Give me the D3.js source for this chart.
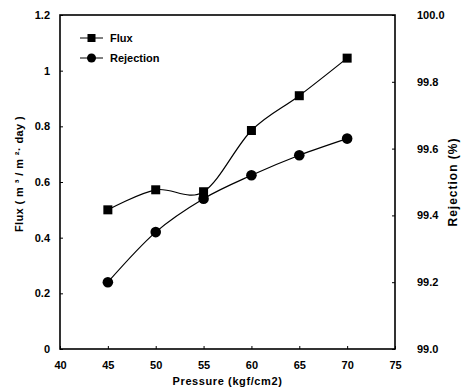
<!DOCTYPE html>
<html>
<head>
<meta charset="utf-8">
<script src="https://cdn.jsdelivr.net/npm/d3@7"></script>
<style>
  body { margin: 0; background: #fff; }
  text { font-family: "Liberation Sans", Arial, sans-serif; font-weight: bold; fill: #000; }
</style>
</head>
<body>
<div class="chart"></div>
<script>
// data
let pressure = [45, 50, 55, 60, 65, 70];
let flux = [0.50, 0.572, 0.565, 0.785, 0.91, 1.045];
let rejection = [99.20, 99.35, 99.45, 99.52, 99.58, 99.63];
let xTicks = [40, 45, 50, 55, 60, 65, 70, 75];
let fluxTicks = [0, 0.2, 0.4, 0.6, 0.8, 1, 1.2];
let rejTicks = [99.0, 99.2, 99.4, 99.6, 99.8, 100.0];

let margin = { top: 15, right: 66, bottom: 40, left: 60 };
let width = 461 - margin.left - margin.right;
let height = 389 - margin.top - margin.bottom;

let svg = d3.select('.chart')
  .append('svg')
    .attr('width', 461)
    .attr('height', 389);
let g = svg.append('g')
    .attr('transform', 'translate(' + margin.left + ', ' + margin.top + ')');

let xScale = d3.scaleLinear().domain([40, 75]).range([0, width]);
let yLeft = d3.scaleLinear().domain([0, 1.2]).range([height, 0]);
let yRight = d3.scaleLinear().domain([99, 100]).range([height, 0]);

let xAxis = d3.axisBottom(xScale).tickValues(xTicks).tickSize(-3).tickPadding(12)
  .tickFormat(d3.format('d'));
let leftAxis = d3.axisLeft(yLeft).tickValues(fluxTicks).tickSize(-3).tickPadding(10)
  .tickFormat(d => d === 0 || d === 1 ? String(d) : d3.format('.1f')(d));
let rightAxis = d3.axisRight(yRight).tickValues(rejTicks).tickSize(-3).tickPadding(22)
  .tickFormat(d3.format('.1f'));

function styleAxis(sel) {
  sel.select('.domain').remove();
  sel.selectAll('line').attr('stroke', '#000').attr('stroke-width', 1);
  sel.selectAll('text').style('font-size', '11px');
}

g.append('g').attr('transform', `translate(0, ${height})`).call(xAxis).call(styleAxis);
g.append('g').call(leftAxis).call(styleAxis);
g.append('g').attr('transform', `translate(${width}, 0)`).call(rightAxis).call(styleAxis);

// frame
g.append('rect')
  .attr('width', width).attr('height', height)
  .attr('fill', 'none').attr('stroke', '#000').attr('stroke-width', 1.6);

let curve = d3.curveCardinal.tension(0);

let fluxLine = d3.line().curve(curve)
  .x((d, i) => xScale(pressure[i])).y(d => yLeft(d));
let rejLine = d3.line().curve(curve)
  .x((d, i) => xScale(pressure[i])).y(d => yRight(d));

g.append('path').datum(flux).attr('d', fluxLine)
  .attr('fill', 'none').attr('stroke', '#000').attr('stroke-width', 1.2);
g.append('path').datum(rejection).attr('d', rejLine)
  .attr('fill', 'none').attr('stroke', '#000').attr('stroke-width', 1.2);

g.selectAll('.sq').data(flux).enter().append('rect')
  .attr('x', (d, i) => xScale(pressure[i]) - 4.5)
  .attr('y', d => yLeft(d) - 4.5)
  .attr('width', 9).attr('height', 9).attr('fill', '#000');

g.selectAll('.dot').data(rejection).enter().append('circle')
  .attr('cx', (d, i) => xScale(pressure[i]))
  .attr('cy', d => yRight(d))
  .attr('r', 5.3).attr('fill', '#000');

// legend
let legend = svg.append('g').attr('transform', 'translate(80, 38)');
legend.append('line').attr('x1', 0).attr('x2', 23).attr('stroke', '#000');
legend.append('rect').attr('x', 7.5).attr('y', -4).attr('width', 8).attr('height', 8).attr('fill', '#000');
legend.append('text').attr('x', 30).attr('y', 4).style('font-size', '11px').text('Flux');
legend.append('line').attr('x1', 0).attr('x2', 23).attr('y1', 20).attr('y2', 20).attr('stroke', '#000');
legend.append('circle').attr('cx', 11.5).attr('cy', 20).attr('r', 4.5).attr('fill', '#000');
legend.append('text').attr('x', 30).attr('y', 24).style('font-size', '11px').text('Rejection');

// axis titles
svg.append('text')
  .attr('x', margin.left + width / 2).attr('y', 385)
  .attr('text-anchor', 'middle').style('font-size', '11px').style('letter-spacing', '0.6px')
  .text('Pressure (kgf/cm2)');

svg.append('text')
  .attr('transform', `translate(23, 174) rotate(-90)`)
  .attr('text-anchor', 'middle').style('font-size', '11px').style('letter-spacing', '0.4px')
  .text('Flux ( m ³ / m ²· day )');

svg.append('text')
  .attr('transform', `translate(457, 182) rotate(-90)`)
  .attr('text-anchor', 'middle').style('font-size', '12px').style('letter-spacing', '1px')
  .text('Rejection (%)');
</script>
</body>
</html>
